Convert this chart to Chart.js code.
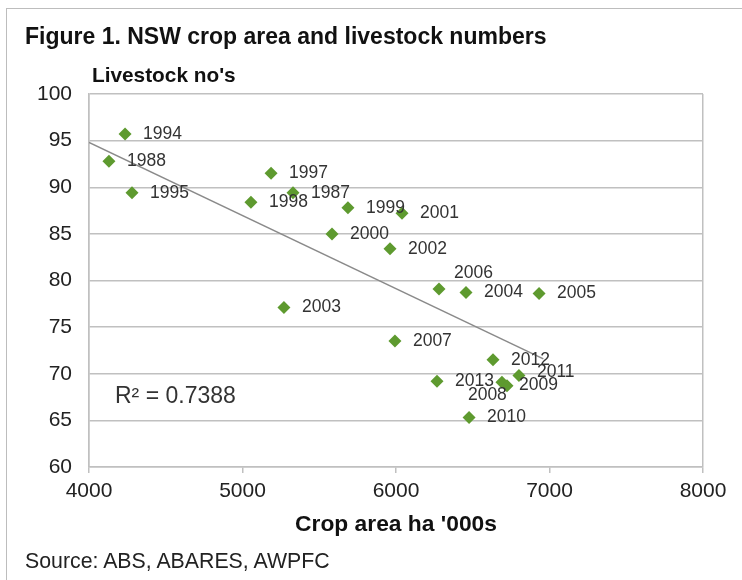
<!DOCTYPE html>
<html>
<head>
<meta charset="utf-8">
<script src="https://cdn.jsdelivr.net/npm/chart.js@4.4.1/dist/chart.umd.min.js"></script>
<style>
  body { margin: 0; background: #fff; font-family: "Liberation Sans", Arial, sans-serif; }
  #wrap { position: relative; width: 742px; height: 580px; overflow: hidden; }
  #frame { position: absolute; left: 6px; top: 8px; width: 740px; height: 600px; border: 1.5px solid #bdbdbd; box-sizing: border-box; }
  .txt { position: absolute; line-height: 1; white-space: nowrap; color: #111; }
  canvas { position: absolute; left: 0; top: 0; }
</style>
</head>
<body>
<div id="wrap">
  <div id="frame"></div>
  <canvas id="graphic" width="742" height="580"></canvas>
  <div class="txt" style="left:25px; top:25px; font-size:23px; font-weight:bold;">Figure 1. NSW crop area and livestock numbers</div>
  <div class="txt" style="left:92px; top:65px; font-size:20.8px; font-weight:bold;">Livestock no's</div>
  <div class="txt" style="left:0; width:792px; text-align:center; top:512px; font-size:22.8px; font-weight:bold;">Crop area ha '000s</div>
  <div class="txt" style="left:25px; top:551px; font-size:21.3px; color:#222;">Source: ABS, ABARES, AWPFC</div>
  <div class="txt" style="left:115px; top:384px; font-size:23px; color:#333;">R² = 0.7388</div>
</div>
<script>
// years, crop area ('000 ha) and livestock numbers
const years = ['1994', '1988', '1995', '1997', '1998', '1987', '1999', '2001', '2000', '2002',
  '2006', '2004', '2005', '2003', '2007', '2012', '2013', '2008', '2009', '2011', '2010'];
const cropArea = [4235, 4130, 4280, 5186, 5055, 5329, 5687, 6039, 5583, 5961,
  6280, 6456, 6932, 5270, 5993, 6632, 6267, 6690, 6723, 6801, 6476];
const livestock = [95.7, 92.8, 89.4, 91.5, 88.4, 89.4, 87.8, 87.2, 85.0, 83.4,
  79.1, 78.7, 78.6, 77.1, 73.5, 71.5, 69.2, 69.1, 68.7, 69.8, 65.3];

// linear trend line ends
const trendX = [4000, 6960];
const trendY = [94.8, 71.6];

const xTicks = [4000, 5000, 6000, 7000, 8000];
const yTicks = [60, 65, 70, 75, 80, 85, 90, 95, 100];

// where each year label sits relative to its point
const labelShift = { '2006': [15, -16], '2008': [-34, 13], '2009': [12, -1], '2011': [18, -3] };

const gridGrey = '#c0c0c0';

const yearLabels = {
  id: 'yearLabels',
  afterDatasetsDraw(chart) {
    const ctx = chart.ctx;
    const meta = chart.getDatasetMeta(1);
    ctx.save();
    ctx.font = '17.5px "Liberation Sans", Arial, sans-serif';
    ctx.fillStyle = '#333';
    ctx.textBaseline = 'middle';
    meta.data.forEach((pt, i) => {
      const s = labelShift[years[i]] || [18, 0];
      ctx.fillText(years[i], pt.x + s[0], pt.y + s[1]);
    });
    ctx.restore();
  },
};

const ctx = document.querySelector('#graphic').getContext('2d');
const graphic = new Chart(ctx, {
  type: 'scatter',
  data: {
    datasets: [{
      type: 'line',
      data: trendX.map((x, i) => ({ x, y: trendY[i] })),
      borderColor: '#8a8a8a',
      borderWidth: 1.5,
      pointRadius: 0,
      fill: false,
    }, {
      data: cropArea.map((x, i) => ({ x, y: livestock[i] })),
      backgroundColor: '#5e9a2f',
      borderColor: '#5e9a2f',
      pointStyle: 'rectRot',
      pointRadius: 6.5,
      borderWidth: 0,
    },
    ],
  },
  options: {
    responsive: false,
    animation: false,
    layout: { padding: { left: 0, top: 94, right: 39, bottom: 73 } },
    plugins: { legend: { display: false }, tooltip: { enabled: false } },
    scales: {
      x: {
        type: 'linear',
        min: 4000,
        max: 8000,
        afterBuildTicks: (axis) => { axis.ticks = xTicks.map((v) => ({ value: v })); },
        afterFit: (axis) => { axis.height = 40; },
        border: { display: true, color: gridGrey, width: 1.5 },
        grid: {
          color: (c) => (c.tick && (c.tick.value === 4000 || c.tick.value === 8000) ? gridGrey : 'rgba(0,0,0,0)'),
          tickColor: gridGrey,
          tickLength: 6,
          lineWidth: 1.5,
        },
        ticks: {
          padding: 6,
          color: '#222',
          font: { family: '"Liberation Sans", Arial, sans-serif', size: 21 },
          callback: (v) => String(v),
        },
      },
      y: {
        min: 60,
        max: 100,
        afterBuildTicks: (axis) => { axis.ticks = yTicks.map((v) => ({ value: v })); },
        afterFit: (axis) => { axis.width = 89; },
        border: { display: true, color: gridGrey, width: 1.5 },
        grid: { color: gridGrey, lineWidth: 1.5, drawTicks: false },
        ticks: {
          padding: 17,
          color: '#222',
          font: { family: '"Liberation Sans", Arial, sans-serif', size: 21 },
        },
      },
    },
  },
  plugins: [yearLabels],
});
graphic.render();
</script>
</body>
</html>
